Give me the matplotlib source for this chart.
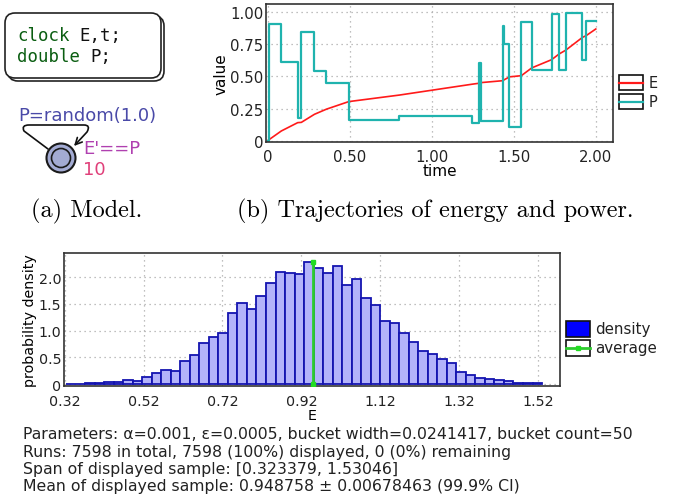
import numpy as np
import matplotlib
matplotlib.use('Agg')
import matplotlib.pyplot as plt
from matplotlib.patches import FancyBboxPatch, Circle, Rectangle, FancyArrowPatch
from matplotlib.path import Path
from matplotlib.lines import Line2D

# ---- data ----
# power P (piecewise constant, steps-post)
P_t = [0, 0.005, 0.083, 0.183, 0.205, 0.285, 0.358, 0.494, 0.803, 1.248, 1.288,
       1.300, 1.433, 1.443, 1.474, 1.546, 1.610, 1.731, 1.776, 1.817, 1.919, 1.941, 2.0]
P_v = [0, 0.906, 0.610, 0.174, 0.847, 0.545, 0.449, 0.164, 0.192, 0.138, 0.608,
       0.153, 0.891, 0.753, 0.106, 0.922, 0.548, 0.987, 0.551, 0.997, 0.629, 0.935, 0.935]
# energy E (read at the breakpoints)
E_t = [0, 0.083, 0.183, 0.205, 0.285, 0.358, 0.494, 0.803, 1.248, 1.288, 1.300,
       1.433, 1.443, 1.474, 1.546, 1.610, 1.731, 1.776, 1.817, 1.919, 1.941, 2.0]
E_v = [0, 0.075, 0.140, 0.142, 0.205, 0.245, 0.304, 0.355, 0.440, 0.447, 0.452,
       0.467, 0.475, 0.497, 0.506, 0.567, 0.631, 0.675, 0.705, 0.805, 0.818, 0.870]

traj_xticks = [0, 0.5, 1.0, 1.5, 2.0]
traj_xlabels = ['0', '0.50', '1.00', '1.50', '2.00']
traj_yticks = [0, 0.25, 0.5, 0.75, 1.0]
traj_ylabels = ['0', '0.25', '0.50', '0.75', '1.00']

span_lo = 0.323379
bucket_width = 0.0241417
mean_E = 0.948758
density = [0.006, 0.0, 0.01, 0.01, 0.03, 0.03, 0.07, 0.055, 0.125, 0.20,
           0.27, 0.235, 0.43, 0.54, 0.77, 0.87, 0.95, 1.32, 1.51, 1.40,
           1.65, 1.89, 2.09, 2.08, 2.06, 2.29, 2.17, 2.08, 2.21, 1.86,
           1.96, 1.61, 1.47, 1.18, 1.14, 0.96, 0.78, 0.62, 0.56, 0.47,
           0.39, 0.22, 0.16, 0.11, 0.09, 0.07, 0.06, 0.025, 0.02, 0.02]
hist_xticks = [0.32, 0.52, 0.72, 0.92, 1.12, 1.32, 1.52]
hist_yticks = [0, 0.5, 1.0, 1.5, 2.0]
hist_ylabels = ['0', '0.5', '1.0', '1.5', '2.0']

info_lines = [
    "Parameters: \u03b1=0.001, \u03b5=0.0005, bucket width=0.0241417, bucket count=50",
    "Runs: 7598 in total, 7598 (100%) displayed, 0 (0%) remaining",
    "Span of displayed sample: [0.323379, 1.53046]",
    "Mean of displayed sample: 0.948758 \u00b1 0.00678463 (99.9% CI)",
]

W, H = 681, 502
fig = plt.figure(figsize=(W / 100, H / 100), dpi=100)

def frac(l, t, r, b):
    return [l / W, 1 - b / H, (r - l) / W, (b - t) / H]

# background axes in pixel coordinates (model drawing, captions, legends, text)
bg = fig.add_axes([0, 0, 1, 1])
bg.set_xlim(0, W)
bg.set_ylim(H, 0)
bg.axis('off')

# model box with shadow
bg.add_patch(FancyBboxPatch((8, 17), 156, 65, boxstyle="round,pad=0,rounding_size=10",
                            fc='white', ec='#222222', lw=1.2))
bg.add_patch(FancyBboxPatch((5, 14), 156, 65, boxstyle="round,pad=0,rounding_size=10",
                            fc='white', ec='#222222', lw=1.2))
mono = 'DejaVu Sans Mono'
cw = 0.602 * 12.5 * 100 / 72  # monospace char width in px
bg.text(17, 36, "clock", family=mono, fontsize=12.5, color='#0b5e12', va='center')
bg.text(17 + 6 * cw, 36, "E,t;", family=mono, fontsize=12.5, color='#111111', va='center')
bg.text(17, 57, "double", family=mono, fontsize=12.5, color='#0b5e12', va='center')
bg.text(17 + 7 * cw, 57, "P;", family=mono, fontsize=12.5, color='#111111', va='center')

# location with self loop
bg.text(18, 116, "P=random(1.0)", fontsize=13, color='#4a4aa8', va='center')
loop = Path([(48, 150), (24, 132), (21, 126), (29, 126), (84, 126), (91, 126), (87, 133), (74, 147)],
            [Path.MOVETO, Path.LINETO, Path.CURVE3, Path.CURVE3, Path.LINETO,
             Path.CURVE3, Path.CURVE3, Path.LINETO])
bg.add_patch(FancyArrowPatch(path=loop, arrowstyle='->', mutation_scale=12, color='#111111', lw=1.2))
bg.add_patch(Circle((61, 159), 14.5, fc='#a3abd3', ec='#1a1a1a', lw=1.5))
bg.add_patch(Circle((61, 159), 9.5, fc='#a3abd3', ec='#1a1a1a', lw=1.2))
bg.text(83, 149, "E'==P", fontsize=13, color='#b040b0', va='center')
bg.text(83, 170, "10", fontsize=13, color='#e0407a', va='center')

# captions
bg.text(87, 211, "(a) Model.", family='cmr10', fontsize=17.5, ha='center', va='center')
bg.text(435, 211, "(b) Trajectories of energy and power.", family='cmr10', fontsize=17.5,
        ha='center', va='center')

# ---- trajectories ----
ax1 = fig.add_axes(frac(266, 5, 613, 143))
ax1.plot(E_t, E_v, color='#ff1a1a', lw=1.2)
ax1.step(P_t, P_v, where='post', color='#1fb3ae', lw=1.6)
ax1.set_xlim(-0.0104, 2.105)
ax1.set_ylim(-0.011, 1.065)
ax1.set_xticks(traj_xticks, traj_xlabels)
ax1.set_yticks(traj_yticks, traj_ylabels)
ax1.grid(True, ls=(0, (1, 3)), color='#aaaaaa', lw=0.9)
ax1.tick_params(axis='both', length=0, labelsize=10.7, colors='#222222')
ax1.tick_params(axis='x', pad=5)
ax1.tick_params(axis='y', pad=2)
ax1.set_xlabel('time', fontsize=11, labelpad=-1)
ax1.set_ylabel('value', fontsize=11, labelpad=1)
for s in ax1.spines.values():
    s.set_color('#333333')
    s.set_linewidth(1.2)

# trajectory legend
for (y0, col, lab) in [(76, '#ff1a1a', 'E'), (95, '#1fb3ae', 'P')]:
    bg.add_patch(Rectangle((619, y0), 24, 15, fc='white', ec='#111111', lw=1.2))
    bg.add_line(Line2D([619, 643], [y0 + 7.5, y0 + 7.5], color=col, lw=1.6))
    bg.text(649, y0 + 7.5, lab, fontsize=10.5, va='center', color='#222222')

# ---- histogram ----
ax2 = fig.add_axes(frac(64, 254, 560, 387))
edges = span_lo + bucket_width * np.arange(len(density))
ax2.bar(edges, density, width=bucket_width, align='edge', color='#b3b3fa',
        edgecolor='#1414b0', lw=1.3, zorder=2)
ax2.plot([mean_E, mean_E], [0, max(density)], color='#2ecc2e', lw=2, marker='s', ms=3.5,
         mfc='#22dd22', mec='#22dd22', zorder=3)
ax2.set_xlim(0.318, 1.576)
ax2.set_ylim(-0.037, 2.449)
ax2.set_xticks(hist_xticks, [f'{v:.2f}' for v in hist_xticks])
ax2.set_yticks(hist_yticks, hist_ylabels)
ax2.grid(True, ls=(0, (1, 3)), color='#aaaaaa', lw=0.9, zorder=0)
ax2.set_axisbelow(True)
ax2.tick_params(axis='both', length=0, labelsize=10.3, colors='#222222')
ax2.tick_params(axis='x', pad=6)
ax2.tick_params(axis='y', pad=2)
ax2.set_xlabel('E', fontsize=10.3, labelpad=0)
ax2.set_ylabel('probability density', fontsize=10.3, labelpad=1)
for s in ax2.spines.values():
    s.set_color('#333333')
    s.set_linewidth(1.2)

# histogram legend
bg.add_patch(Rectangle((566, 322), 24, 16, fc='#0000ff', ec='#111111', lw=1.2))
bg.text(595, 330, 'density', fontsize=10.8, va='center', color='#222222')
bg.add_patch(Rectangle((566, 341), 24, 16, fc='white', ec='#111111', lw=1.2))
bg.add_line(Line2D([566, 590], [349, 349], color='#2ecc2e', lw=2))
bg.add_line(Line2D([578], [349], marker='s', ms=3.5, color='#22dd22'))
bg.text(595, 349, 'average', fontsize=10.8, va='center', color='#222222')

# info text
for i, line in enumerate(info_lines):
    bg.text(23, 435 + 17.3 * i, line, fontsize=11.3, va='center', color='#222222')

fig.savefig('out.png', dpi=100)
